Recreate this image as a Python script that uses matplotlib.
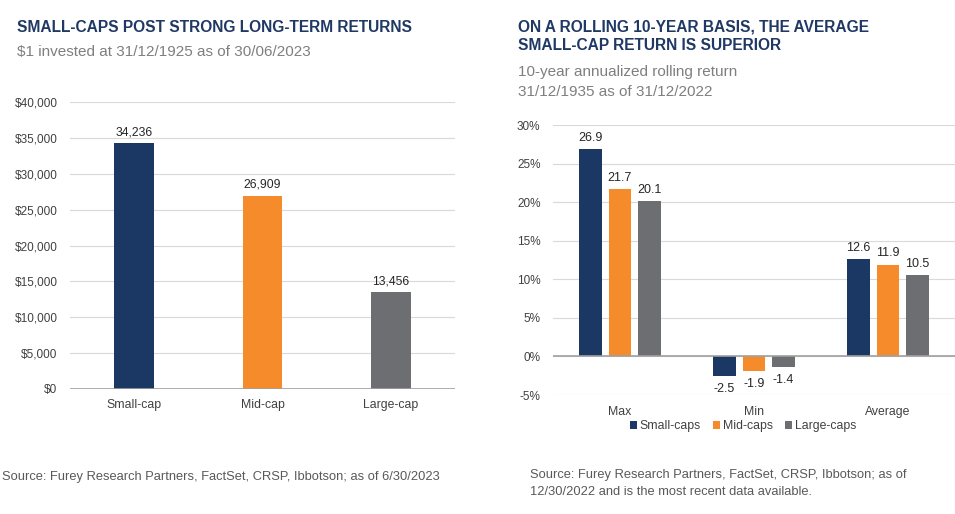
import numpy as np
import matplotlib.pyplot as plt
from matplotlib.ticker import FuncFormatter

plt.rcParams['font.family'] = ['Liberation Sans', 'DejaVu Sans']

# left chart data
growth_cats = ['Small-cap', 'Mid-cap', 'Large-cap']
growth_vals = [34236, 26909, 13456]

# right chart data
roll_cats = ['Max', 'Min', 'Average']
series_names = ['Small-caps', 'Mid-caps', 'Large-caps']
small_caps = [26.9, -2.5, 12.6]
mid_caps = [21.7, -1.9, 11.9]
large_caps = [20.1, -1.4, 10.5]

NAVY = '#1b3763'
ORANGE = '#f58b2a'
GRAY = '#6d6e71'
TITLE = '#1f3864'
SUB = '#7f7f7f'
TICK = '#404040'
GRID = '#d9d9d9'

W, H = 955, 514
fig = plt.figure(figsize=(W / 100, H / 100), dpi=100)


def px_axes(x0, y0, x1, y1):
    return fig.add_axes([x0 / W, 1 - y1 / H, (x1 - x0) / W, (y1 - y0) / H])


def style(ax):
    for s in ['top', 'right', 'left', 'bottom']:
        ax.spines[s].set_visible(False)
    ax.tick_params(length=0, labelsize=8.5, colors=TICK)
    ax.tick_params(axis='x', labelsize=8.8)
    ax.grid(axis='y', color=GRID, linewidth=0.8)
    ax.set_axisbelow(True)


# ---- left chart ----
ax1 = px_axes(70, 102, 455, 389)
style(ax1)
x = np.arange(len(growth_cats))
bars = ax1.bar(x, growth_vals, width=0.31, color=[NAVY, ORANGE, GRAY])
ax1.set_xlim(-0.5, 2.5)
ax1.set_ylim(0, 40000)
ax1.set_yticks(np.arange(0, 40001, 5000))
ax1.yaxis.set_major_formatter(FuncFormatter(lambda v, p: f"${v:,.0f}"))
ax1.set_xticks(x)
ax1.set_xticklabels(growth_cats)
ax1.axhline(0, color='#a0a0a0', linewidth=1.2)
ax1.tick_params(axis='x', pad=7)
ax1.tick_params(axis='y', pad=9)
for b, v in zip(bars, growth_vals):
    ax1.text(b.get_x() + b.get_width() / 2, v + 700, f"{v:,}", ha='center', va='bottom',
             fontsize=8.7, color='#262626')

fig.text(17 / W, 1 - 27 / H, 'SMALL-CAPS POST STRONG LONG-TERM RETURNS', fontsize=11.2,
         fontweight='bold', color=TITLE, va='center')
fig.text(17 / W, 1 - 52 / H, '$1 invested at 31/12/1925 as of 30/06/2023', fontsize=11,
         color=SUB, va='center')
fig.text(2 / W, 1 - 477 / H, 'Source: Furey Research Partners, FactSet, CRSP, Ibbotson; as of 6/30/2023',
         fontsize=9.3, color='#595959', va='center')

# ---- right chart ----
ax2 = px_axes(553, 125, 955, 395)
style(ax2)
xr = np.arange(len(roll_cats))
bw = 0.17
gap = 0.22
for i, (vals, col, name) in enumerate(zip([small_caps, mid_caps, large_caps],
                                          [NAVY, ORANGE, GRAY], series_names)):
    pos = xr + (i - 1) * gap
    rb = ax2.bar(pos, vals, width=bw, color=col, label=name)
    for p, v in zip(pos, vals):
        if v >= 0:
            ax2.text(p, v + 0.7, f"{v}", ha='center', va='bottom', fontsize=9, color='#262626')
        else:
            ax2.text(p, v - 0.9, f"{v}", ha='center', va='top', fontsize=9, color='#262626')
ax2.set_xlim(-0.5, 2.5)
ax2.set_ylim(-5, 30)
ax2.set_yticks(np.arange(-5, 31, 5))
ax2.yaxis.set_major_formatter(FuncFormatter(lambda v, p: f"{v:.0f}%"))
ax2.set_xticks(xr)
ax2.set_xticklabels(roll_cats)
ax2.tick_params(axis='x', pad=8)
ax2.tick_params(axis='y', pad=9)
ax2.axhline(0, color='#a0a0a0', linewidth=1.2)
ax2.legend(loc='center', bbox_to_anchor=(743 / W, 1 - 426 / H), bbox_transform=fig.transFigure,
           ncol=3, frameon=False, fontsize=8.8, handlelength=0.6, handleheight=0.6,
           handletextpad=0.2, columnspacing=1.0, labelcolor=TICK)

fig.text(518 / W, 1 - 27 / H, 'ON A ROLLING 10-YEAR BASIS, THE AVERAGE', fontsize=11.2,
         fontweight='bold', color=TITLE, va='center')
fig.text(518 / W, 1 - 45 / H, 'SMALL-CAP RETURN IS SUPERIOR', fontsize=11.2,
         fontweight='bold', color=TITLE, va='center')
fig.text(518 / W, 1 - 72 / H, '10-year annualized rolling return', fontsize=11,
         color=SUB, va='center')
fig.text(518 / W, 1 - 92 / H, '31/12/1935 as of 31/12/2022', fontsize=11,
         color=SUB, va='center')
fig.text(530 / W, 1 - 475 / H, 'Source: Furey Research Partners, FactSet, CRSP, Ibbotson; as of',
         fontsize=9.3, color='#595959', va='center')
fig.text(530 / W, 1 - 492 / H, '12/30/2022 and is the most recent data available.',
         fontsize=9.3, color='#595959', va='center')

fig.savefig('out.png', dpi=100)
